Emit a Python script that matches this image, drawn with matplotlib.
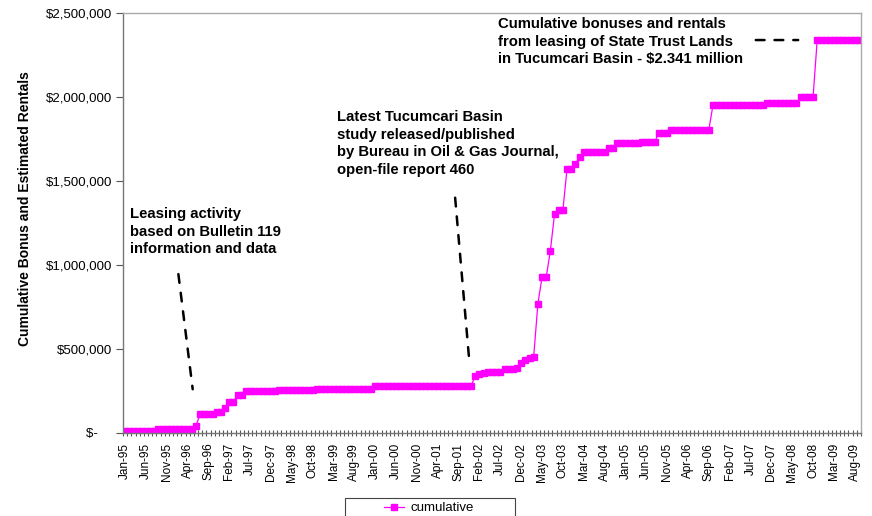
import matplotlib
matplotlib.use("Agg")
import matplotlib.pyplot as plt
import numpy as np
import pandas as pd
from matplotlib.lines import Line2D
from matplotlib.patches import Rectangle
from matplotlib.ticker import FixedLocator, FuncFormatter

plt.rcParams["font.family"] = ["Liberation Sans", "DejaVu Sans"]

# monthly categories Jan-95 .. Sep-09
months = pd.date_range("1995-01-01", periods=177, freq="MS").strftime("%b-%y").tolist()
label_every = 5

# cumulative bonus + estimated rentals ($), one value per month
cumulative = [
    12000, 12000, 12000, 12000, 12000, 12000, 12000, 12000, 22000, 22000, 22000, 22000,  # 1995
    22000, 22000, 22000, 22000, 22000, 42000, 113000, 113000, 113000, 113000, 123000, 123000,  # 1996
    151000, 186000, 186000, 226000, 226000, 252000, 252000, 252000, 252000, 252000, 252000, 252000,  # 1997
    252000, 253000, 253000, 254000, 256000, 256000, 256000, 257000, 257000, 258000, 260000, 262000,  # 1998
    262000, 262000, 263000, 263000, 263000, 263000, 264000, 264000, 264000, 264000, 264000, 264000,  # 1999
    280000, 280000, 280000, 280000, 280000, 280000, 281000, 281000, 281000, 281000, 281000, 281000,  # 2000
    281000, 281000, 281000, 281000, 282000, 282000, 282000, 282000, 282000, 282000, 282000, 282000,  # 2001
    340000, 350000, 358000, 362000, 365000, 366000, 366000, 381000, 381000, 381000, 389000, 415000,  # 2002
    432000, 445000, 454000, 768000, 927000, 927000, 1085000, 1304000, 1327000, 1327000, 1573000, 1573000,  # 2003
    1601000, 1645000, 1675000, 1675000, 1675000, 1675000, 1675000, 1675000, 1695000, 1695000, 1724000, 1724000,  # 2004
    1724000, 1724000, 1724000, 1724000, 1734000, 1734000, 1734000, 1734000, 1784000, 1784000, 1784000, 1804000,  # 2005
    1804000, 1804000, 1804000, 1804000, 1804000, 1804000, 1804000, 1804000, 1804000, 1952000, 1952000, 1952000,  # 2006
    1952000, 1952000, 1952000, 1952000, 1952000, 1952000, 1952000, 1952000, 1952000, 1952000, 1962000, 1962000,  # 2007
    1962000, 1962000, 1962000, 1962000, 1962000, 1962000, 1998000, 1998000, 1998000, 1998000, 2341000, 2341000,  # 2008
    2341000, 2341000, 2341000, 2341000, 2341000, 2341000, 2341000, 2341000, 2341000,  # 2009
]

y_ticks = [0, 500000, 1000000, 1500000, 2000000, 2500000]

notes = [
    "Leasing activity\nbased on Bulletin 119\ninformation and data",
    "Latest Tucumcari Basin\nstudy released/published\nby Bureau in Oil & Gas Journal,\nopen-file report 460",
    "Cumulative bonuses and rentals\nfrom leasing of State Trust Lands\nin Tucumcari Basin - $2.341 million",
]

MAGENTA = "#FF00FF"
W, H = 872, 516


def fx(px):
    return px / W


def fy(py):
    return 1 - py / H


def money(v, _):
    if v == 0:
        return "$-    "
    return f"${v:,.0f}"


def main():
    fig = plt.figure(figsize=(W / 100, H / 100), dpi=100)
    ax = fig.add_axes([fx(123), fy(433), fx(861) - fx(123), fy(13) - fy(433)])

    x = np.arange(len(cumulative))
    ax.plot(x, cumulative, color=MAGENTA, lw=0.9, marker="s", ms=4.1,
            mec=MAGENTA, mfc=MAGENTA, label="cumulative")

    ax.set_xlim(-0.5, len(months) - 0.5)
    ax.set_ylim(0, 2500000)

    label_pos = x[::label_every]
    ax.xaxis.set_major_locator(FixedLocator(label_pos))
    ax.set_xticklabels([months[i] for i in label_pos], rotation=90, fontsize=8.5)
    ax.xaxis.set_minor_locator(FixedLocator(np.arange(len(months) + 1) - 0.5))
    ax.tick_params(axis="x", which="major", length=0, pad=7)
    ax.tick_params(axis="x", which="minor", length=4, direction="inout",
                   width=0.8, color="#555555")

    ax.set_yticks(y_ticks)
    ax.yaxis.set_major_formatter(FuncFormatter(money))
    ax.tick_params(axis="y", length=5, direction="out", width=0.8,
                   color="#555555", labelsize=9.5, pad=3)

    for side in ["left", "bottom"]:
        ax.spines[side].set_color("#777777")
        ax.spines[side].set_linewidth(1.0)
    for side in ["top", "right"]:
        ax.spines[side].set_color("#aaaaaa")
        ax.spines[side].set_linewidth(1.0)

    fig.text(fx(25), fy(209), "Cumulative Bonus and Estimated Rentals",
             rotation=90, ha="center", va="center", fontsize=10, fontweight="bold")

    # annotation text blocks
    note_style = dict(ha="left", va="top", fontsize=10.7, fontweight="bold", linespacing=1.33)
    fig.text(fx(130), fy(207), notes[0], **note_style)
    fig.text(fx(337), fy(110), notes[1], **note_style)
    fig.text(fx(498), fy(17), notes[2], **note_style)

    # dashed leader lines (data coords)
    dash = dict(arrowstyle="-", color="black", lw=1.8, linestyle=(0, (3.5, 4)))
    ax.annotate("", xy=(16.3, 244000), xytext=(12.7, 962000), arrowprops=dash)
    ax.annotate("", xy=(82.7, 387000), xytext=(79.1, 1417000), arrowprops=dash)
    ax.annotate("", xy=(162.1, 2339000), xytext=(150.6, 2339000), arrowprops=dash)

    # legend box, cut at the bottom like the original
    fig.patches.append(Rectangle((fx(345), fy(540)), fx(515) - fx(345), fy(498) - fy(540),
                                 transform=fig.transFigure, fill=False,
                                 edgecolor="#444444", lw=0.8))
    handle = Line2D([], [], color=MAGENTA, lw=0.9, marker="s", ms=4.1,
                    mec=MAGENTA, mfc=MAGENTA)
    fig.legend([handle], ["cumulative"], loc="center left",
               bbox_to_anchor=(fx(384), fy(508)), frameon=False, fontsize=9.5,
               borderpad=0, borderaxespad=0, handlelength=1.5, handletextpad=0.5)

    fig.savefig("out.png", dpi=100)
    plt.close(fig)


if __name__ == "__main__":
    main()
